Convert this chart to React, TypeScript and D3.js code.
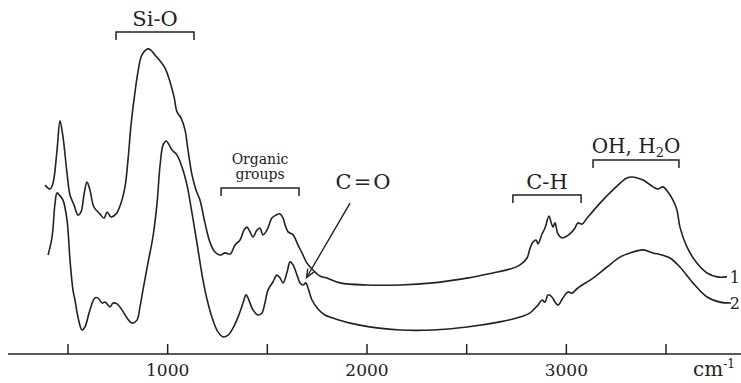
import * as d3 from 'd3'

// wavenumber (cm-1) and absorbance (a.u.)
const wave1 = [385, 410, 425, 445, 460, 475, 495, 510, 530, 550, 565, 580, 595, 610, 630, 660, 681, 696, 716, 741, 766, 786, 801, 816, 831, 851, 871, 901, 916, 936, 962, 987, 1012, 1032, 1047, 1067, 1087, 1102, 1122, 1142, 1162, 1187, 1212, 1237, 1263, 1288, 1313, 1338, 1363, 1383, 1398, 1413, 1428, 1448, 1463, 1478, 1498, 1523, 1543, 1564, 1579, 1589, 1604, 1629, 1654, 1674, 1699, 1729, 1764, 1799, 1865, 2000, 2166, 2331, 2502, 2632, 2717, 2768, 2803, 2818, 2833, 2848, 2858, 2878, 2893, 2913, 2923, 2933, 2943, 2958, 2978, 3003, 3028, 3043, 3058, 3079, 3104, 3169, 3234, 3304, 3334, 3385, 3435, 3460, 3485, 3510, 3535, 3555, 3570, 3605, 3655, 3706, 3756, 3806]
const abs1 = [56.3, 55, 57, 68, 77.7, 72.3, 60.3, 53, 49.7, 46.3, 47.3, 53, 57.3, 54.7, 49, 46.7, 45.3, 47.3, 45.7, 46.7, 50.3, 55.7, 64.7, 76.3, 84.7, 94, 99.7, 101.7, 101.3, 99.7, 97.7, 95.3, 90.7, 85.7, 80.7, 78.7, 74.7, 68, 59.7, 54.7, 51.3, 43.7, 37.3, 34, 33, 33.7, 33.3, 36.3, 38, 41.3, 42.3, 40.7, 39, 41.3, 42, 39.7, 41.3, 45.3, 46.3, 46.7, 45.3, 43, 40.7, 39.7, 36.3, 33.7, 30.3, 28, 26, 25.3, 23.7, 23, 23, 23.7, 25.3, 27, 28.3, 29.7, 32, 35.3, 37.3, 38, 36.7, 40, 42, 46, 44, 42.3, 43.7, 40, 38.7, 39.3, 40.7, 42, 43.7, 43.3, 45.3, 50.3, 54.7, 58.7, 59, 58, 55.7, 55, 55.7, 54, 51.3, 48, 42.3, 35.7, 30.3, 27, 25.7, 25.7]

const wave2 = [400, 420, 435, 445, 460, 475, 495, 510, 525, 535, 550, 570, 585, 610, 635, 650, 671, 686, 711, 726, 746, 771, 796, 821, 846, 861, 876, 901, 926, 946, 962, 977, 992, 1002, 1022, 1047, 1072, 1097, 1122, 1147, 1177, 1202, 1227, 1253, 1278, 1303, 1328, 1353, 1378, 1393, 1403, 1428, 1453, 1473, 1488, 1503, 1528, 1548, 1564, 1579, 1599, 1614, 1629, 1649, 1664, 1679, 1694, 1704, 1724, 1754, 1789, 1829, 1915, 2050, 2166, 2331, 2502, 2667, 2768, 2818, 2843, 2858, 2878, 2893, 2908, 2928, 2943, 2958, 2983, 3008, 3028, 3058, 3134, 3204, 3269, 3319, 3385, 3435, 3480, 3520, 3570, 3635, 3706, 3771, 3826]
const abs2 = [33, 39, 50.3, 53.7, 52.7, 51.3, 44.7, 31.3, 21.3, 18, 12.3, 8, 9, 14.7, 18.7, 18.7, 17, 17.3, 15.7, 17, 16.7, 14.7, 12, 10.3, 11.3, 15.7, 21.3, 30.3, 39, 49.7, 63, 69.7, 71, 70.3, 68, 66.3, 62.3, 56.3, 47, 37, 24.7, 17, 11.3, 7.3, 5.7, 6.3, 8.7, 12.3, 17, 19.7, 18.7, 14.7, 13, 13.7, 17, 21.3, 24, 26.3, 25.3, 23.7, 27.3, 30.7, 29.7, 26.3, 23.7, 23, 23.7, 22, 18, 15, 13, 12, 10.3, 8.7, 8, 8, 9, 10.7, 12.3, 13.7, 15.3, 16.3, 18, 17.3, 19.7, 19, 17.3, 16.3, 18.7, 20.7, 20.3, 22, 25.3, 29, 32.3, 33.7, 34.7, 33.7, 33, 32, 29, 23.7, 19, 17.3, 17]

const seriesNames = ['1', '2']
const tickValues = [500, 1000, 1500, 2000, 2500, 3000, 3500]
const tickLabels = ['', '1000', '', '2000', '', '3000', '']

// band brackets: [from, to] in cm-1 and bracket level in a.u.
const bands = [
  { label: 'Si-O', from: 741, to: 1132, level: 107.3 },
  { label: 'Organic groups', from: 1268, to: 1659, level: 55.3 },
  { label: 'C-H', from: 2732, to: 3074, level: 53 },
  { label: 'OH, H2O', from: 3134, to: 3565, level: 64.7 },
]
const carbonyl = { label: 'C=O', textAt: 1915, textLevel: 55, from: [1915, 50.3], to: [1697, 25.5] }

const W = 741
const H = 383
const FONT = '"DejaVu Serif", serif'
const INK = '#222'

export default function App() {
  const x = d3.scaleLinear().domain([500, 3500]).range([68, 666])
  const y = d3.scaleLinear().domain([0, 100]).range([354, 54])

  const line = d3.line<[number, number]>()
    .x(d => x(d[0]))
    .y(d => y(d[1]))
    .curve(d3.curveCatmullRom.alpha(0.5))

  const s1 = wave1.map((w, i) => [w, abs1[i]] as [number, number])
  const s2 = wave2.map((w, i) => [w, abs2[i]] as [number, number])
  const series = [s1, s2]

  const [ax, ay] = [x(carbonyl.from[0]), y(carbonyl.from[1])]
  const [bx, by] = [x(carbonyl.to[0]), y(carbonyl.to[1])]
  const ang = Math.atan2(by - ay, bx - ax)
  const head = 9
  const h1 = [bx - head * Math.cos(ang - 0.4), by - head * Math.sin(ang - 0.4)]
  const h2 = [bx - head * Math.cos(ang + 0.4), by - head * Math.sin(ang + 0.4)]

  return (
    <svg width={W} height={H} style={{ position: 'absolute', left: 0, top: 0, background: '#fff' }} fontFamily={FONT}>
      {series.map((s, i) => (
        <g key={i}>
          <path d={line(s) ?? ''} fill="none" stroke={INK} strokeWidth={1.6} />
          <text x={W - 1} y={y(s[s.length - 1][1]) + 6} textAnchor="end" fontSize={16} fill={INK}>
            {seriesNames[i]}
          </text>
        </g>
      ))}

      {/* axis */}
      <line x1={8} x2={W} y1={y(0)} y2={y(0)} stroke={INK} strokeWidth={1.5} />
      {tickValues.map((t, i) => (
        <g key={t}>
          <line x1={x(t)} x2={x(t)} y1={y(0)} y2={y(0) - 10} stroke={INK} strokeWidth={1.5} />
          {tickLabels[i] && (
            <text x={x(t)} y={y(0) + 22} textAnchor="middle" fontSize={17} fill={INK}>
              {tickLabels[i]}
            </text>
          )}
        </g>
      ))}
      <text x={693} y={376} fontSize={20} fill={INK}>
        cm<tspan dy={-8} fontSize={12}>-1</tspan>
      </text>

      {/* band brackets */}
      {bands.map(b => {
        const by0 = y(b.level)
        return (
          <g key={b.label}>
            <path
              d={`M${x(b.from)},${by0 + 8}V${by0}H${x(b.to)}V${by0 + 8}`}
              fill="none"
              stroke={INK}
              strokeWidth={1.5}
            />
            {b.label === 'Organic groups' ? (
              <text x={(x(b.from) + x(b.to)) / 2} textAnchor="middle" fontSize={14} fill={INK}>
                <tspan x={(x(b.from) + x(b.to)) / 2} y={by0 - 24}>Organic</tspan>
                <tspan x={(x(b.from) + x(b.to)) / 2} y={by0 - 9}>groups</tspan>
              </text>
            ) : b.label === 'OH, H2O' ? (
              <text x={(x(b.from) + x(b.to)) / 2} y={by0 - 7} textAnchor="middle" fontSize={20} fill={INK}>
                OH, H<tspan dy={4} fontSize={13}>2</tspan><tspan dy={-4}>O</tspan>
              </text>
            ) : (
              <text x={(x(b.from) + x(b.to)) / 2} y={by0 - 6} textAnchor="middle" fontSize={21} fill={INK}>
                {b.label}
              </text>
            )}
          </g>
        )
      })}

      {/* C=O annotation */}
      <text x={x(carbonyl.textAt) + 14} y={y(carbonyl.textLevel)} textAnchor="middle" fontSize={21} letterSpacing={2} fill={INK}>
        {carbonyl.label}
      </text>
      <line x1={ax} y1={ay} x2={bx} y2={by} stroke={INK} strokeWidth={1.4} />
      <path d={`M${h1[0]},${h1[1]}L${bx},${by}L${h2[0]},${h2[1]}`} fill="none" stroke={INK} strokeWidth={1.4} />
    </svg>
  )
}
